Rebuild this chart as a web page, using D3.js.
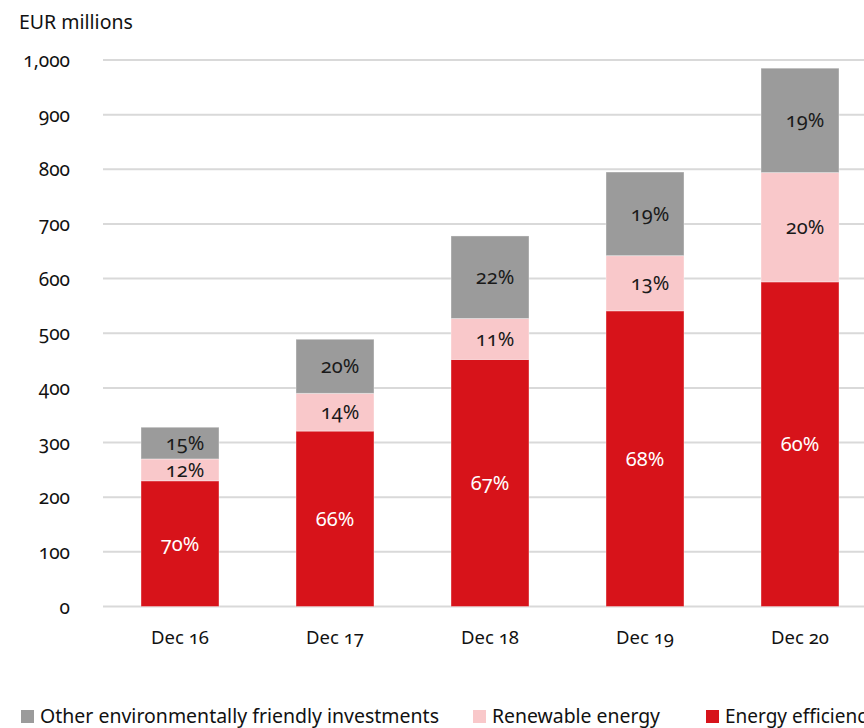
<!DOCTYPE html>
<html>
<head>
<meta charset="utf-8">
<script src="https://cdn.jsdelivr.net/npm/d3@7"></script>
<style>
  html, body { margin: 0; padding: 0; background: #fff; }
  svg { display: block; font-family: "Noto Sans", "Open Sans", sans-serif; font-variant-numeric: oldstyle-nums; }
</style>
</head>
<body>
<svg id="chart" width="864" height="728"></svg>
<script>
// Green finance portfolio by category, EUR millions
const categories = ["Dec 16", "Dec 17", "Dec 18", "Dec 19", "Dec 20"];
const energyEfficiency = [230, 321, 452, 541, 594];
const renewableEnergy  = [40, 69, 75, 101, 200];
const otherInvestments = [58, 99, 151, 153, 191];

// Share labels printed on each segment
const energyEfficiencyPct = ["70%", "66%", "67%", "68%", "60%"];
const renewableEnergyPct  = ["12%", "14%", "11%", "13%", "20%"];
const otherInvestmentsPct = ["15%", "20%", "22%", "19%", "19%"];

const yTicks = [0, 100, 200, 300, 400, 500, 600, 700, 800, 900, 1000];

const series = [
  { key: "ee",    name: "Energy efficiency", values: energyEfficiency, labels: energyEfficiencyPct, color: "#d7131a", text: "#ffffff", dx: 0 },
  { key: "re",    name: "Renewable energy",  values: renewableEnergy,  labels: renewableEnergyPct,  color: "#f9c8ca", text: "#1a1a1a", dx: 5 },
  { key: "other", name: "Other environmentally friendly investments", values: otherInvestments, labels: otherInvestmentsPct, color: "#9b9b9b", text: "#1a1a1a", dx: 5 }
];

const svg = d3.select("#chart");

const x = d3.scaleBand()
  .domain(categories)
  .range([102.5, 877.5])
  .paddingInner(0.497)
  .paddingOuter(0.2485);

const y = d3.scaleLinear().domain([0, 1000]).range([606.5, 60]);

// Horizontal gridlines
svg.append("g").selectAll("line")
  .data(yTicks)
  .join("line")
  .attr("x1", 103).attr("x2", 864)
  .attr("y1", d => y(d)).attr("y2", d => y(d))
  .attr("stroke", "#d9d9d9").attr("stroke-width", 2);

// Y axis labels
const yAxis = d3.axisLeft(y).tickValues(yTicks).tickSize(0).tickPadding(0)
  .tickFormat(d3.format(","));
svg.append("g")
  .attr("transform", "translate(70,0)")
  .call(yAxis)
  .call(g => g.select(".domain").remove())
  .call(g => g.selectAll("text")
    .attr("font-family", "'Noto Sans', sans-serif")
    .attr("font-size", 19).attr("font-weight", 400).attr("fill", "#111")
    .attr("dy", "0.35em"));

// Unit title
svg.append("text")
  .attr("x", 19).attr("y", 29)
  .attr("font-size", 19.5).attr("fill", "#111")
  .text("EUR millions");

// X axis labels
const xAxis = d3.axisBottom(x).tickSize(0).tickPadding(0);
svg.append("g")
  .attr("transform", "translate(0,644)")
  .call(xAxis)
  .call(g => g.select(".domain").remove())
  .call(g => g.selectAll("text")
    .attr("font-family", "'Noto Sans', sans-serif")
    .attr("font-size", 18.5).attr("font-weight", 400).attr("fill", "#111")
    .attr("y", 0).attr("dy", 0));

// Stacked bars
const stack = d3.stack()
  .keys(series.map(s => s.key))
  .value((d, key) => d[key]);

const rows = categories.map((c, i) => {
  const r = { cat: c };
  series.forEach(s => { r[s.key] = s.values[i]; });
  return r;
});
const stacked = stack(rows);

const layers = svg.append("g").selectAll("g")
  .data(stacked)
  .join("g");

layers.each(function(layer, li) {
  const s = series[li];
  const g = d3.select(this);
  g.selectAll("rect")
    .data(layer)
    .join("rect")
    .attr("x", d => x(d.data.cat))
    .attr("width", x.bandwidth())
    .attr("y", d => y(d[1]))
    .attr("height", d => y(d[0]) - y(d[1]))
    .attr("fill", s.color)
    .attr("stroke", "#ffffff").attr("stroke-opacity", 0.35).attr("stroke-width", 1);

  g.selectAll("text")
    .data(layer)
    .join("text")
    .attr("x", d => x(d.data.cat) + x.bandwidth() / 2 + s.dx)
    .attr("y", d => (y(d[0]) + y(d[1])) / 2)
    .attr("dy", "0.35em")
    .attr("text-anchor", "middle")
    .attr("font-size", 20)
    .attr("fill", s.text)
    .text((d, i) => s.labels[i]);
});

// Legend
const legendItems = [
  { name: series[2].name, color: series[2].color, x: 21, w: 399 },
  { name: series[1].name, color: series[1].color, x: 473, w: 168 },
  { name: series[0].name, color: series[0].color, x: 706, w: null }
];
const legend = svg.append("g").selectAll("g")
  .data(legendItems)
  .join("g")
  .attr("transform", d => `translate(${d.x},0)`);
legend.append("rect")
  .attr("x", 0).attr("y", 710).attr("width", 13).attr("height", 13)
  .attr("fill", d => d.color);
legend.append("text")
  .attr("x", 19).attr("y", 723)
  .attr("font-size", 19)
  .attr("fill", "#111")
  .each(function(d) {
    if (d.w) d3.select(this).attr("textLength", d.w).attr("lengthAdjust", "spacingAndGlyphs");
  })
  .text(d => d.name);
</script>
</body>
</html>
